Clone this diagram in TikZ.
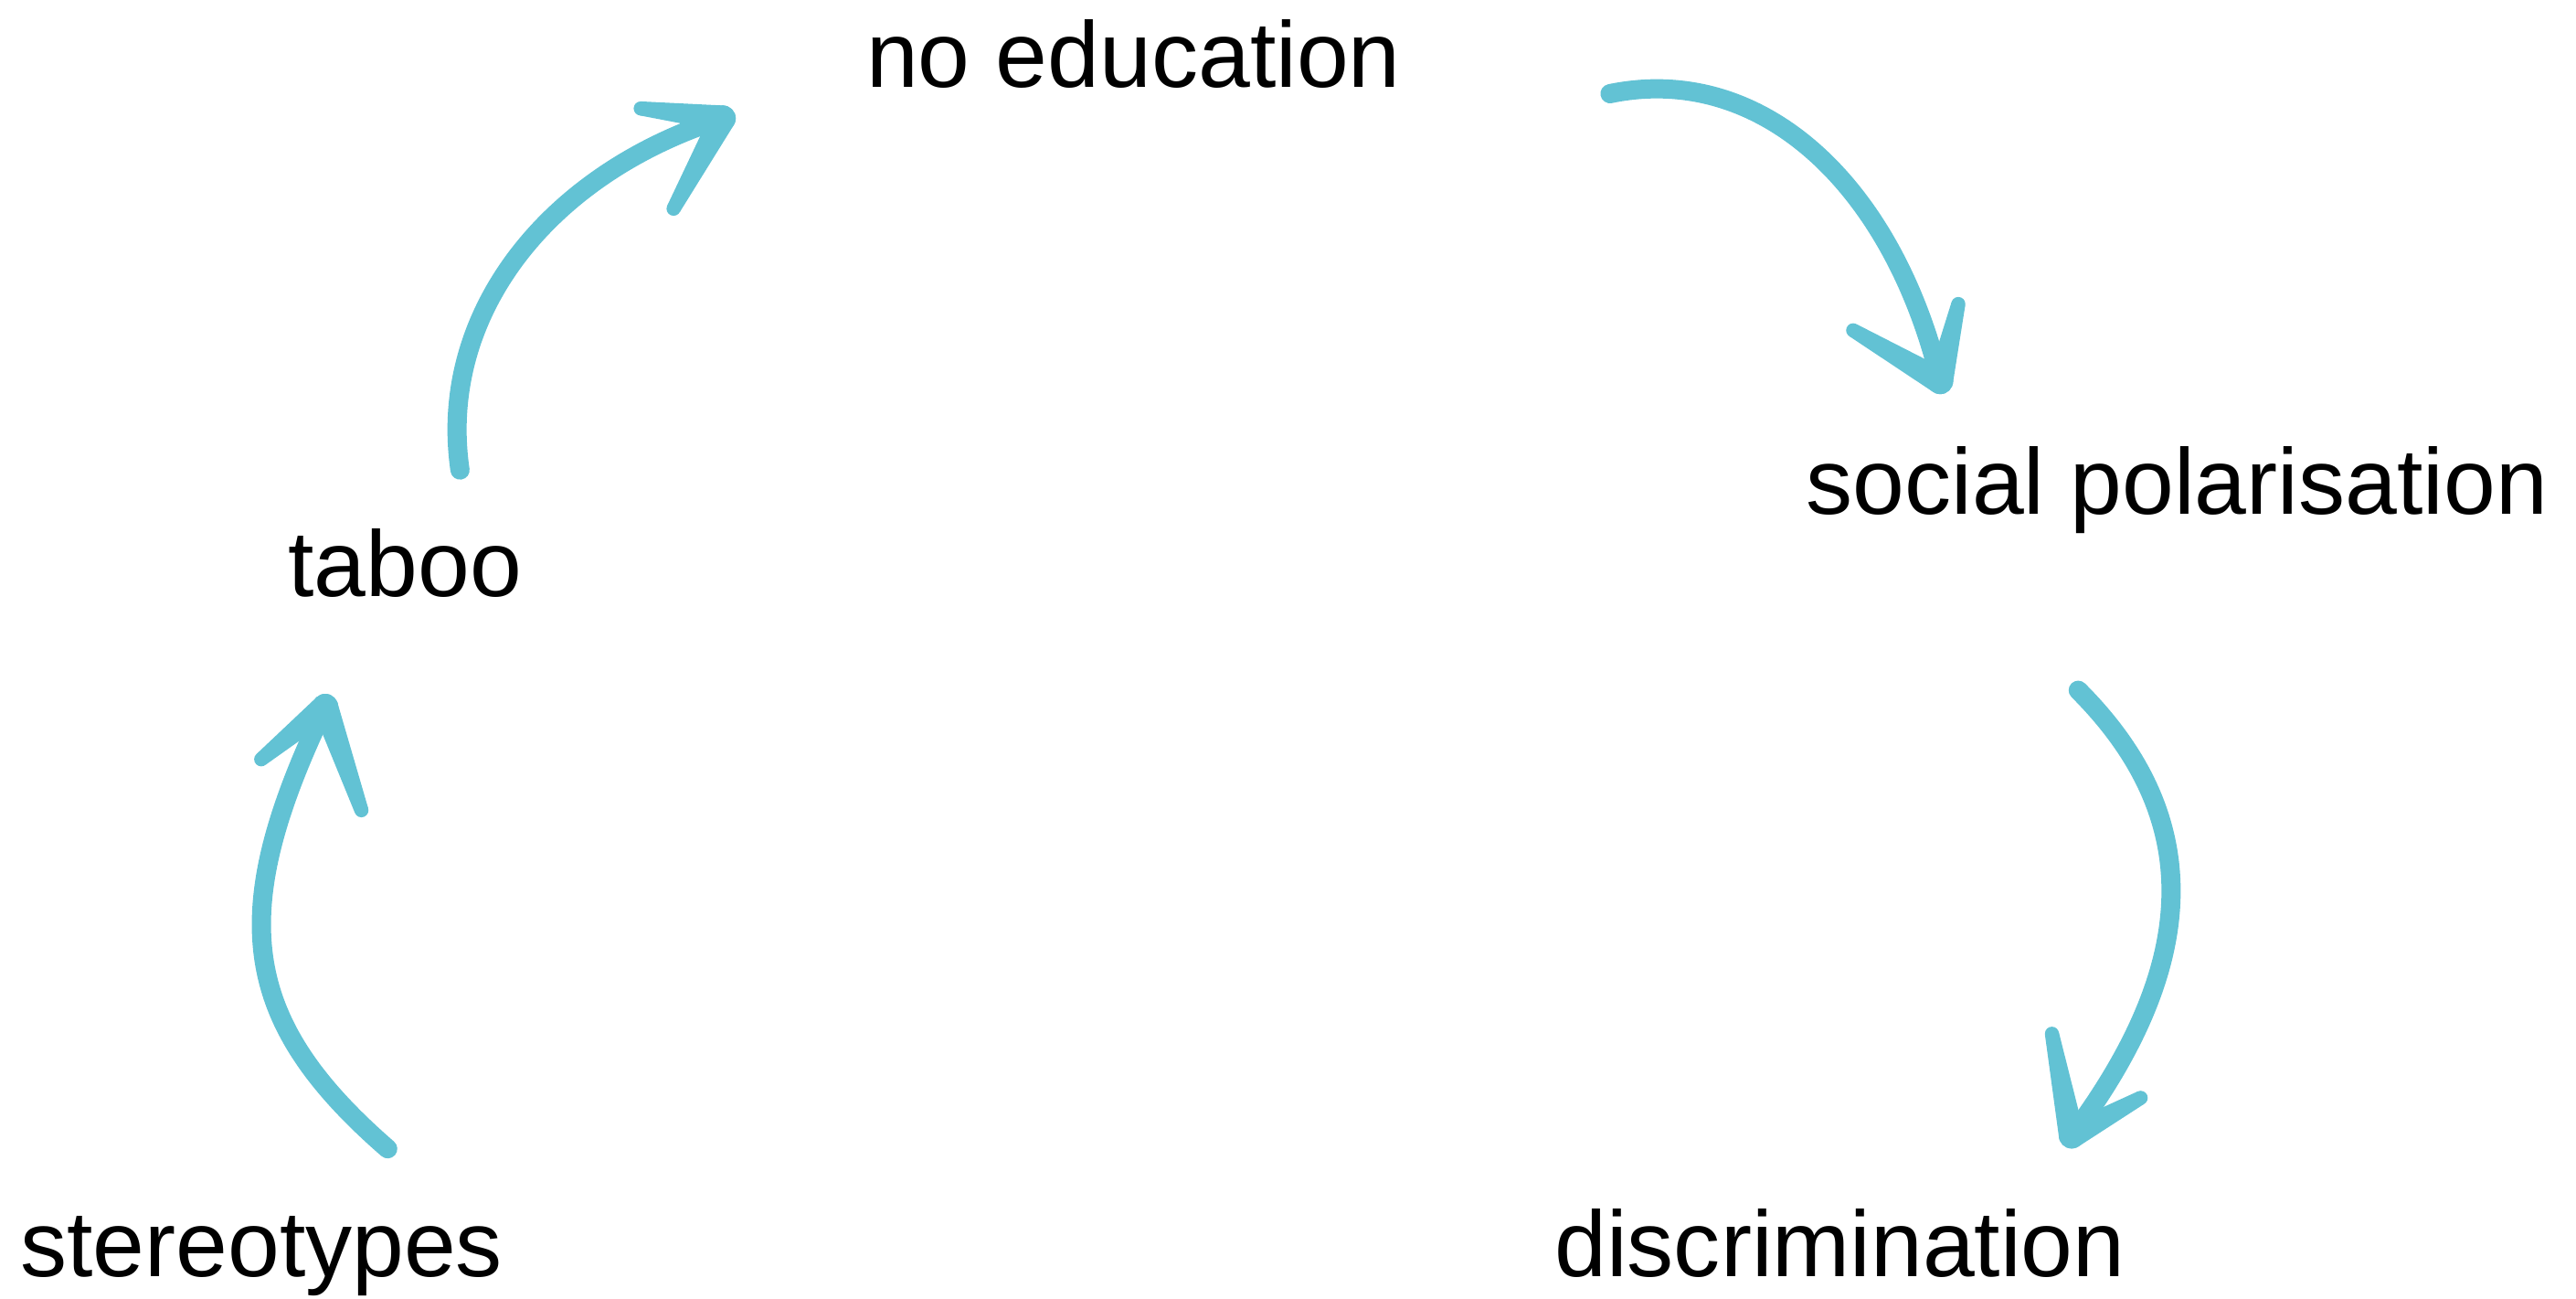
\documentclass[tikz,border=0pt]{standalone}
\usepackage{fontspec}
\setmainfont{Liberation Sans}
\usetikzlibrary{calc}
\definecolor{arrowblue}{RGB}{98,194,212}
\newcommand{\mybarb}[2]{%
  \fill[arrowblue] ($(#1)!4pt!90:(#2)$) -- ($(#2)!2.2pt!-90:(#1)$) -- ($(#2)!2.2pt!90:(#1)$) -- ($(#1)!4pt!-90:(#2)$) -- cycle;
  \fill[arrowblue] (#2) circle (2.2pt);
  \fill[arrowblue] (#1) circle (4pt);}
\begin{document}
\begin{tikzpicture}[x=0.17978mm, y=-0.17978mm,
  lbl/.style={anchor=base west, inner sep=0pt, font=\fontsize{29.05pt}{34pt}\selectfont},
  shaft/.style={draw=arrowblue, line width=2.1mm, line cap=round}]
\useasboundingbox (0,0) rectangle (1568,790);
% labels
\node[lbl] (noedu) at (527,53) {no education};
\node[lbl] (socpol) at (1099,313) {social polarisation};
\node[lbl] (taboo) at (175,363) {taboo};
\node[lbl] (stereo) at (12,777) {stereotypes};
\node[lbl] (discr) at (946,777) {discrimination};
% arrow ends
\coordinate (a1s) at (280,286);
\coordinate (a1e) at (440,72);
\coordinate (a1l) at (390,66);
\coordinate (a1r) at (410,127);
\coordinate (a2s) at (980,57);
\coordinate (a2e) at (1181,232);
\coordinate (a2l) at (1128,201);
\coordinate (a2r) at (1192,185);
\coordinate (a3s) at (1265,420);
\coordinate (a3e) at (1261,691);
\coordinate (a3l) at (1249,629);
\coordinate (a3r) at (1303,668);
\coordinate (a4s) at (236,699);
\coordinate (a4e) at (198,430);
\coordinate (a4l) at (159,462);
\coordinate (a4r) at (220,493);
% taboo -> no education
\draw[shaft] (a1s) .. controls (266,190) and (335,105) .. (a1e);
\mybarb{a1e}{a1l}
\mybarb{a1e}{a1r}
% no education -> social polarisation
\draw[shaft] (a2s) .. controls (1072,38) and (1152,112) .. (a2e);
\mybarb{a2e}{a2l}
\mybarb{a2e}{a2r}
% social polarisation -> discrimination
\draw[shaft] (a3s) .. controls (1341,496) and (1341,584) .. (a3e);
\mybarb{a3e}{a3l}
\mybarb{a3e}{a3r}
% stereotypes -> taboo
\draw[shaft] (a4s) .. controls (145,620) and (138,555) .. (a4e);
\mybarb{a4e}{a4l}
\mybarb{a4e}{a4r}
\end{tikzpicture}
\end{document}
